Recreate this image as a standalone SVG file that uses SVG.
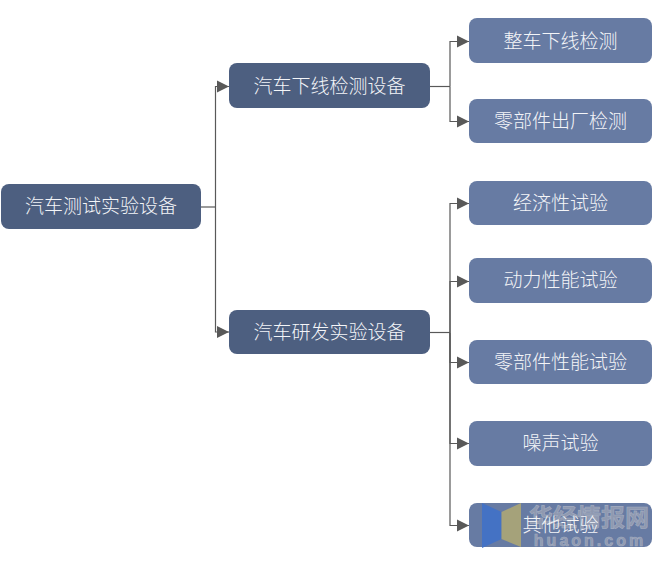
<svg xmlns="http://www.w3.org/2000/svg" width="670" height="568" viewBox="0 0 670 568">
<style>
text{font-family:"Noto Sans CJK SC","Noto Sans CJK JP",sans-serif;font-size:19px;fill:#f4f5f8;text-anchor:middle;font-weight:300}
.d{fill:#4d5f80}
.l{fill:#677ba3}
.c{fill:none;stroke:#595959;stroke-width:1.2}
.wm{font-weight:700;fill:#8f99b0;stroke:#a3acc0;stroke-width:.6}
</style>
<defs>
<marker id="a" markerUnits="userSpaceOnUse" markerWidth="13" markerHeight="13" refX="12" refY="6.500" orient="auto"><path d="M0 0.500L12 6.500L0 12.500Z" fill="#595959"/></marker>
</defs>
<g id="connectors">
<path class="c" d="M201 207H215.500"/>
<path class="c" d="M215.500 207V86.500H229" marker-end="url(#a)"/>
<path class="c" d="M215.500 207V332H229" marker-end="url(#a)"/>
<path class="c" d="M430 86.500H450"/>
<path class="c" d="M450 86.500V41.500H469" marker-end="url(#a)"/>
<path class="c" d="M450 86.500V121.500H469" marker-end="url(#a)"/>
<path class="c" d="M430 332.500H450"/>
<path class="c" d="M450 332.500V203.500H469" marker-end="url(#a)"/>
<path class="c" d="M450 332.500V281.500H469" marker-end="url(#a)"/>
<path class="c" d="M450 332.500V362.500H469" marker-end="url(#a)"/>
<path class="c" d="M450 332.500V443.500H469" marker-end="url(#a)"/>
<path class="c" d="M450 332.500V525.500H469" marker-end="url(#a)"/>
</g>
<g id="n-root"><rect class="d" x="1" y="184" width="200" height="45" rx="8"/><text x="101" y="213">汽车测试实验设备</text></g>
<g id="n-prod"><rect class="d" x="229" y="63" width="201" height="45" rx="8"/><text x="329.500" y="92.500">汽车下线检测设备</text></g>
<g id="n-rd"><rect class="d" x="229" y="310" width="201" height="44" rx="8"/><text x="329.500" y="339">汽车研发实验设备</text></g>
<g id="n-1"><rect class="l" x="469" y="18" width="183" height="45" rx="8"/><text x="560.500" y="48">整车下线检测</text></g>
<g id="n-2"><rect class="l" x="469" y="99" width="183" height="44" rx="8"/><text x="560.500" y="128">零部件出厂检测</text></g>
<g id="n-3"><rect class="l" x="469" y="181" width="183" height="44" rx="8"/><text x="560.500" y="210">经济性试验</text></g>
<g id="n-4"><rect class="l" x="469" y="258" width="183" height="45" rx="8"/><text x="560.500" y="287">动力性能试验</text></g>
<g id="n-5"><rect class="l" x="469" y="340" width="183" height="44" rx="8"/><text x="560.500" y="369">零部件性能试验</text></g>
<g id="n-6"><rect class="l" x="469" y="421" width="183" height="45" rx="8"/><text x="560.500" y="450">噪声试验</text></g>
<g id="n-7"><rect class="l" x="469" y="503" width="183" height="44" rx="8"/></g>
<g id="watermark">
<path d="M482 503L501.500 512V539L482 548Z" fill="#4472c4"/>
<path d="M501.500 512L521 503V547L501.500 539Z" fill="#a5a27a"/>
<text class="wm" x="589" y="526" style="font-size:24px;font-family:'Noto Sans CJK SC',sans-serif">华经情报网</text>
<text class="wm" x="590" y="545.500" style="font-size:16px;letter-spacing:3px;font-family:'Liberation Sans',sans-serif">huaon.com</text>
</g>
<text x="560.500" y="532">其他试验</text>
</svg>
